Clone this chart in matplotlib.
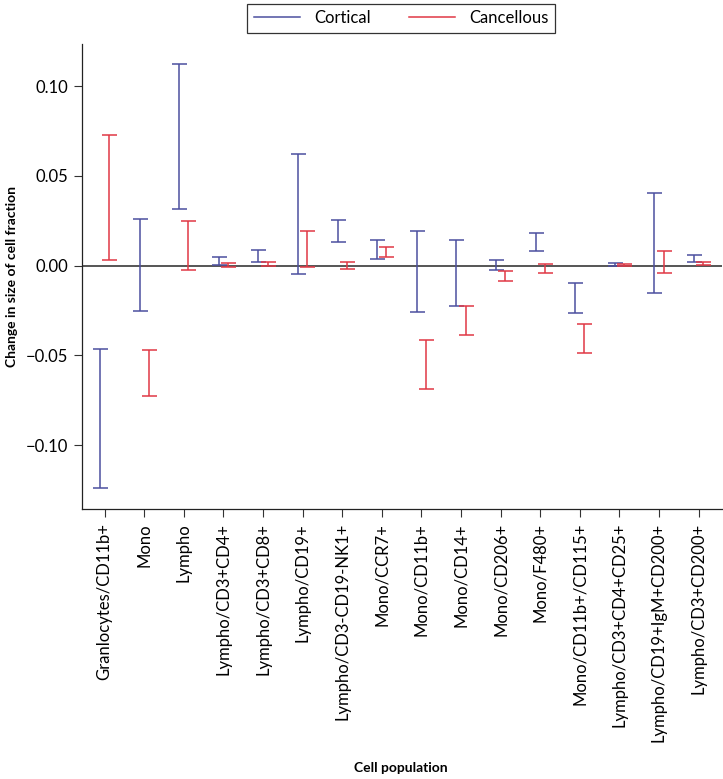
import matplotlib
matplotlib.use("Agg")
import matplotlib.pyplot as plt
import numpy as np
from matplotlib.lines import Line2D

categories = ["Granlocytes/CD11b+", "Mono", "Lympho", "Lympho/CD3+CD4+", "Lympho/CD3+CD8+",
              "Lympho/CD19+", "Lympho/CD3-CD19-NK1+", "Mono/CCR7+", "Mono/CD11b+", "Mono/CD14+",
              "Mono/CD206+", "Mono/F480+", "Mono/CD11b+/CD115+", "Lympho/CD3+CD4+CD25+",
              "Lympho/CD19+IgM+CD200+", "Lympho/CD3+CD200+"]

cortical_low = [-0.1240, -0.0254, 0.0314, 0.0002, 0.0019, -0.0048, 0.0132, 0.0039,
                -0.0260, -0.0223, -0.0024, 0.0080, -0.0265, -0.0003, -0.0152, 0.0021]
cortical_high = [-0.0466, 0.0258, 0.1123, 0.0048, 0.0086, 0.0624, 0.0256, 0.0143,
                 0.0193, 0.0141, 0.0032, 0.0184, -0.0095, 0.0017, 0.0407, 0.0060]
cancellous_low = [0.0032, -0.0724, -0.0026, -0.0009, -0.0004, -0.0009, -0.0017, 0.0047,
                  -0.0687, -0.0388, -0.0084, -0.0042, -0.0488, -0.0002, -0.0041, 0.0002]
cancellous_high = [0.0728, -0.0469, 0.0247, 0.0013, 0.0021, 0.0193, 0.0022, 0.0102,
                   -0.0415, -0.0223, -0.0030, 0.0011, -0.0326, 0.0011, 0.0084, 0.0022]
yticks = [-0.10, -0.05, 0.00, 0.05, 0.10]
ytick_labels = ["\u22120.10", "\u22120.05", "0.00", "0.05", "0.10"]
series_names = ["Cortical", "Cancellous"]

plt.rcParams['font.family'] = ['Lato', 'DejaVu Sans']

blue = "#4C4F9F"
red = "#E03845"

fig = plt.figure(figsize=(7.23, 7.79), dpi=100)
ax = fig.add_axes([0.113, 0.3466, 0.885, 0.5969])

x = np.arange(len(categories))
off = 0.117

def draw(lo, hi, xpos, color, label):
    lo = np.array(lo); hi = np.array(hi)
    mid = (lo + hi) / 2
    err = (hi - lo) / 2
    ax.errorbar(xpos, mid, yerr=err, fmt='none', ecolor=color, elinewidth=1.1,
                capsize=5.4, capthick=1.1, label=label)

ax.axhline(0, color="#555555", lw=1.4, zorder=0)
draw(cortical_low, cortical_high, x - off, blue, series_names[0])
draw(cancellous_low, cancellous_high, x + off, red, series_names[1])

ax.set_xlim(-0.58, 15.58)
ax.set_ylim(-0.1355, 0.1234)
ax.set_yticks(yticks)
ax.set_yticklabels(ytick_labels)
ax.set_xticks(x)
ax.set_xticklabels(categories, rotation=90)
ax.tick_params(axis='both', labelsize=12, length=6, width=0.8, colors="#333333", labelcolor="black")
ax.tick_params(axis='x', pad=4)
for s in ['top', 'right']:
    ax.spines[s].set_visible(False)
for s in ['left', 'bottom']:
    ax.spines[s].set_linewidth(0.9)
    ax.spines[s].set_color("#222222")

ax.set_ylabel("Change in size of cell fraction", fontsize=10, fontweight='bold', labelpad=6)
fig.text(0.555, 0.006, "Cell population", ha='center', va='bottom', fontsize=10, fontweight='bold')

handles = [Line2D([], [], color=blue, lw=1.1), Line2D([], [], color=red, lw=1.1)]
leg = fig.legend(handles, series_names, loc='upper center', bbox_to_anchor=(0.5546, 1.006), ncol=2,
                 frameon=True, fancybox=False, edgecolor='black', fontsize=12,
                 handlelength=2.8, columnspacing=2.3, borderpad=0.4)
leg.get_frame().set_linewidth(0.9)

fig.savefig("out.png", dpi=100)
